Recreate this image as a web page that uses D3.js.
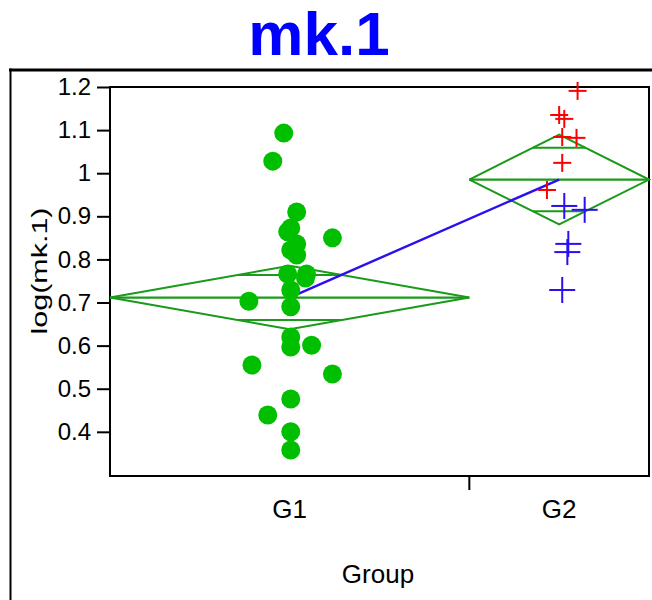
<!DOCTYPE html>
<html>
<head>
<meta charset="utf-8">
<script src="https://cdn.jsdelivr.net/npm/d3@7"></script>
<style>
  body { margin: 0; background: #fff; }
  svg { display: block; font-family: "Liberation Sans", Arial, sans-serif; }
</style>
</head>
<body>
<svg id="chart" width="652" height="600"></svg>
<script>
const groups = ["G1", "G2"];

// log(mk.1) per observation, with jitter as a fraction of the half band width
const g1Values = [1.093, 1.028, 0.910, 0.873, 0.864, 0.850, 0.836, 0.822, 0.810, 0.766, 0.766, 0.757,
                  0.729, 0.703, 0.690, 0.620, 0.597, 0.601, 0.555, 0.534, 0.476, 0.439, 0.400, 0.358];
const g1Jitter = [-0.033, -0.094, 0.039, 0.006, -0.011, 0.238, 0.039, 0.006, 0.039, -0.011, 0.094, 0.088,
                  0.006, -0.227, 0.006, 0.006, 0.006, 0.122, -0.210, 0.238, 0.006, -0.122, 0.006, 0.006];
const g2RedValues = [1.191, 1.135, 1.126, 1.084, 1.082, 1.024, 0.961];
const g2RedJitter = [0.205, 0.0, 0.057, 0.034, 0.193, 0.034, -0.136];
const g2BlueValues = [0.924, 0.915, 0.836, 0.817, 0.729];
const g2BlueJitter = [0.057, 0.284, 0.102, 0.091, 0.034];

const yTicks = [0.4, 0.5, 0.6, 0.7, 0.8, 0.9, 1, 1.1, 1.2];
const tCrit = 2.032; // t(0.975, df = 34)

const svg = d3.select("#chart");
const box = {left: 110, right: 649, top: 87, bottom: 476};

const g1 = g1Values.map((v, i) => ({v, j: g1Jitter[i]}));
const g2red = g2RedValues.map((v, i) => ({v, j: g2RedJitter[i]}));
const g2blue = g2BlueValues.map((v, i) => ({v, j: g2BlueJitter[i]}));
const byGroup = [g1Values, g2RedValues.concat(g2BlueValues)];

const counts = byGroup.map(a => a.length);
const total = d3.sum(counts);
const x = d3.scaleLinear().domain([0, total]).range([box.left, box.right]);
const starts = counts.map((c, i) => d3.sum(counts.slice(0, i)));
const bandL = i => x(starts[i]);
const bandR = i => x(starts[i] + counts[i]);
const bandC = i => (bandL(i) + bandR(i)) / 2;
const halfW = i => (bandR(i) - bandL(i)) / 2;

const y = d3.scaleLinear().domain([0.2975, 1.2]).range([box.bottom, box.top]);

// group means and pooled-sd confidence intervals
const means = byGroup.map(a => d3.mean(a));
const ss = d3.sum(byGroup, (a, i) => d3.sum(a, v => (v - means[i]) ** 2));
const sdPooled = Math.sqrt(ss / (total - groups.length));
const ci = counts.map(n => tCrit * sdPooled / Math.sqrt(n));

// outer frame
svg.append("line").attr("x1", 9).attr("x2", 652).attr("y1", 70).attr("y2", 70)
  .attr("stroke", "#000").attr("stroke-width", 3);
svg.append("line").attr("x1", 10.5).attr("x2", 10.5).attr("y1", 68.5).attr("y2", 600)
  .attr("stroke", "#000").attr("stroke-width", 2);

// title
svg.append("text").attr("x", 319).attr("y", 55).attr("text-anchor", "middle")
  .attr("font-size", 62).attr("font-weight", "bold").attr("fill", "#0000ff").text("mk.1");

// plot box
svg.append("rect").attr("x", box.left).attr("y", box.top)
  .attr("width", box.right - box.left).attr("height", box.bottom - box.top)
  .attr("fill", "none").attr("stroke", "#000").attr("stroke-width", 2);

// y axis
const yAxis = svg.append("g").attr("transform", `translate(${box.left},0)`)
  .call(d3.axisLeft(y).tickValues(yTicks).tickSize(13).tickPadding(6).tickFormat(d3.format("")));
yAxis.select(".domain").remove();
yAxis.selectAll("line").attr("stroke", "#000").attr("stroke-width", 2);
yAxis.selectAll("text").attr("font-size", 24).attr("fill", "#000").attr("font-family", null);

// x axis: separator tick between groups, labels at band centres
svg.append("line").attr("x1", bandR(0)).attr("x2", bandR(0))
  .attr("y1", box.bottom).attr("y2", box.bottom + 14).attr("stroke", "#000").attr("stroke-width", 2);
svg.selectAll(".xlab").data(groups).enter().append("text")
  .attr("class", "xlab").attr("x", (d, i) => bandC(i)).attr("y", 518)
  .attr("text-anchor", "middle").attr("font-size", 26).text(d => d);

svg.append("text").attr("x", 378).attr("y", 583).attr("text-anchor", "middle")
  .attr("font-size", 26).text("Group");
svg.append("text").attr("transform", "translate(47,271) rotate(-90)")
  .attr("text-anchor", "middle").attr("font-size", 22)
  .attr("textLength", 127).attr("lengthAdjust", "spacingAndGlyphs").text("log(mk.1)");

const plot = svg.append("g");

// means diamonds with overlap marks
const green = "#1a9a1a";
groups.forEach((gname, i) => {
  const m = means[i], c = ci[i];
  const l = bandL(i), r = bandR(i), cx = bandC(i), hw = halfW(i);
  plot.append("path")
    .attr("d", d3.line()([[l, y(m)], [cx, y(m + c)], [r, y(m)], [cx, y(m - c)], [l, y(m)]]))
    .attr("fill", "none").attr("stroke", green).attr("stroke-width", 2);
  plot.append("line").attr("x1", l).attr("x2", r).attr("y1", y(m)).attr("y2", y(m))
    .attr("stroke", green).attr("stroke-width", 2.2);
  const ov = c / Math.SQRT2;
  const ow = hw * (1 - ov / c);
  [m + ov, m - ov].forEach(v => {
    plot.append("line").attr("x1", cx - ow).attr("x2", cx + ow).attr("y1", y(v)).attr("y2", y(v))
      .attr("stroke", green).attr("stroke-width", 2);
  });
});

// line connecting the means
plot.append("path")
  .attr("d", d3.line()(groups.map((g, i) => [bandC(i), y(means[i])])))
  .attr("fill", "none").attr("stroke", "#2a0ff0").attr("stroke-width", 2.4);

// G1 points
plot.selectAll(".pt").data(g1).enter().append("circle")
  .attr("cx", d => bandC(0) + d.j * halfW(0)).attr("cy", d => y(d.v))
  .attr("r", 9.5).attr("fill", "#00bf00");

// G2 crosses
const cross = (sel, data, size, color) => {
  const g = sel.selectAll(null).data(data).enter().append("g")
    .attr("transform", d => `translate(${bandC(1) + d.j * halfW(1)},${y(d.v)})`);
  g.append("line").attr("x1", -size).attr("x2", size).attr("stroke", color).attr("stroke-width", 2);
  g.append("line").attr("y1", -size).attr("y2", size).attr("stroke", color).attr("stroke-width", 2);
};
cross(plot, g2red, 9, "#ff0000");
cross(plot, g2blue, 13, "#2a0ff0");
</script>
</body>
</html>
